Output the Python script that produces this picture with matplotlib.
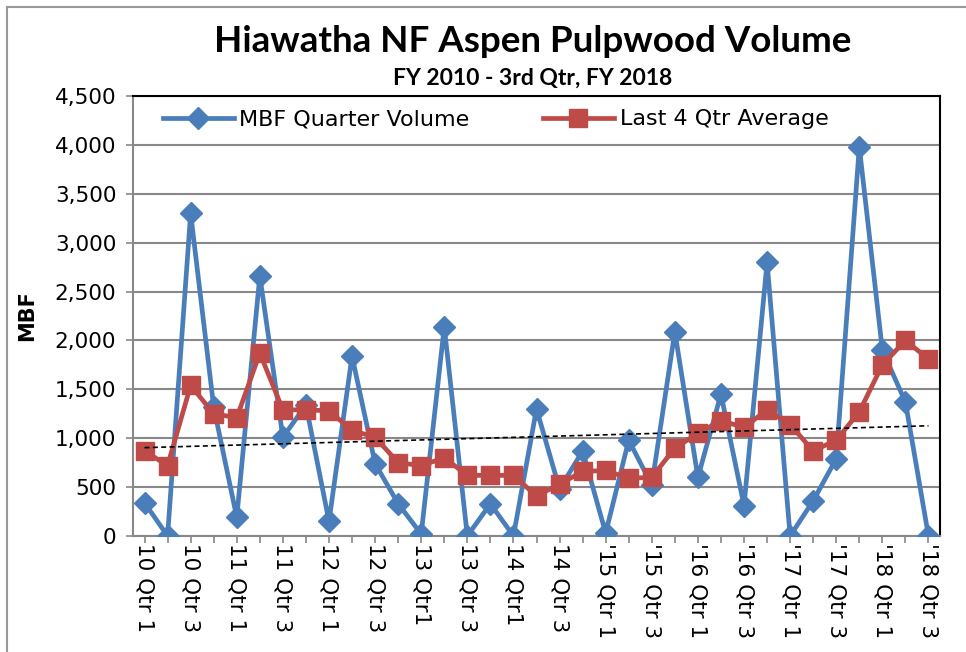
import numpy as np
import matplotlib
matplotlib.use("Agg")
import matplotlib.pyplot as plt
from matplotlib.lines import Line2D
from matplotlib.ticker import FuncFormatter

BLUE = '#4A7EBB'
RED = '#BE4B48'

# quarter labels, only every second one is shown on the axis
tick_labels = ['10 Qtr 1', '10 Qtr 3', '11 Qtr 1', '11 Qtr 3', '12 Qtr 1', '12 Qtr 3',
               '13 Qtr1', '13 Qtr 3', '14 Qtr1', '14 Qtr 3', "'15 Qtr 1", "'15 Qtr 3",
               "'16 Qtr 1", "'16 Qtr 3", "'17 Qtr 1", "'17 Qtr 3", "'18 Qtr 1", "'18 Qtr 3"]

# MBF per quarter, FY10 Q1 .. FY18 Q3 (35 quarters)
quarter_volume = [340, 0, 3300, 1320, 190, 2660, 1010, 1340, 150, 1840,
                  740, 330, 20, 2140, 0, 330, 0, 1300, 480, 870,
                  30, 980, 520, 2090, 600, 1450, 310, 2800, 0, 360,
                  790, 3980, 1900, 1370, 0]

# trailing 4 quarter average
last4_avg = [870, 720, 1540, 1250, 1210, 1870, 1290, 1290, 1280, 1080,
             1010, 750, 720, 800, 620, 620, 620, 410, 530, 660,
             670, 590, 600, 900, 1050, 1180, 1110, 1290, 1140, 870,
             980, 1270, 1750, 2000, 1810]

x = np.arange(len(quarter_volume))

fig = plt.figure(figsize=(9.66, 6.52), dpi=100)
ax = fig.add_axes([133/966, 1-536/652, (940-133)/966, (536-96)/652])

ax.plot(x, quarter_volume, color=BLUE, lw=3.4, marker='D', ms=11.5,
        label='MBF Quarter Volume', zorder=3)
ax.plot(x, last4_avg, color=RED, lw=3.4, marker='s', ms=13.5,
        label='Last 4 Qtr Average', zorder=4)

# linear trendline of quarterly volume
coef = np.polyfit(x, quarter_volume, 1)
ax.plot(x, np.polyval(coef, x), color='black', lw=1.2, ls=(0, (3, 2)), zorder=5)

ax.set_xlim(-0.5, len(x) - 0.5)
ax.set_ylim(0, 4500)
ax.set_yticks(np.arange(0, 4501, 500))
ax.yaxis.set_major_formatter(FuncFormatter(lambda v, p: '{:,.0f}'.format(v)))
ax.set_xticks(x)
ax.set_xticklabels([tick_labels[i // 2] if i % 2 == 0 else '' for i in x],
                   rotation=270, va='top', ha='center')
ax.tick_params(axis='both', labelsize=15.5, color='#888888', length=5, width=1.2)
ax.tick_params(axis='x', pad=0)
ax.tick_params(axis='y', pad=7)

ax.grid(axis='y', color='#888888', lw=1.5)
ax.set_axisbelow(True)
for s in ['left', 'bottom']:
    ax.spines[s].set_color('#888888')
    ax.spines[s].set_linewidth(1.5)
for s in ['top', 'right']:
    ax.spines[s].set_color('black')
    ax.spines[s].set_linewidth(1.5)

ax.legend(loc='upper left', ncol=2, frameon=False, fontsize=16,
          bbox_to_anchor=(0.012, 1.015), columnspacing=3.3, handlelength=3.2,
          handletextpad=0.25)

ax.set_ylabel('MBF', fontsize=15, fontweight='bold')
ax.yaxis.set_label_coords(-96/807, 0.5)

fig.text(533/966, 1-42/652, 'Hiawatha NF Aspen Pulpwood Volume', ha='center', va='center',
         fontsize=26.5, fontweight='bold', family='Lato')
fig.text(533/966, 1-78/652, 'FY 2010 - 3rd Qtr, FY 2018', ha='center', va='center',
         fontsize=16.5, fontweight='bold', family='Lato')

# chart area border (only left and top edges are inside the picture)
fig.add_artist(Line2D([7/966, 7/966], [0, 1-7/652], transform=fig.transFigure,
                      color='#999999', lw=1.5))
fig.add_artist(Line2D([7/966, 1], [1-7/652, 1-7/652], transform=fig.transFigure,
                      color='#999999', lw=1.5))

fig.savefig('out.png', dpi=100)
